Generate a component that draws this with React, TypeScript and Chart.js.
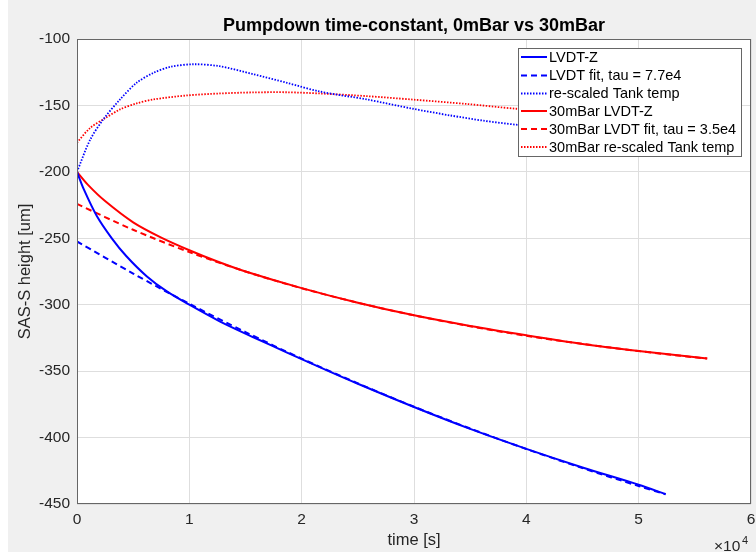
import React, { useEffect, useRef } from "react";
import { Chart, registerables } from "chart.js";
Chart.register(...registerables);

// time in units of 1e4 s
const chartTitle = "Pumpdown time-constant, 0mBar vs 30mBar";
const xLabel = "time [s]";
const yLabel = "SAS-S height [um]";
const xTickValues = [0, 1, 2, 3, 4, 5, 6];
const yTickValues = [-450, -400, -350, -300, -250, -200, -150, -100];

const lvdtT = [0, 0.06, 0.175, 0.31, 0.44, 0.62, 0.8, 1.0, 1.27, 1.57, 1.87, 2.24, 2.5, 3, 3.5, 4, 4.5, 5, 5.24];
const lvdtY = [-200, -213, -233, -250, -263.5, -278.5, -290, -300, -312.5, -324.5, -336, -350, -359.5, -377, -393.5, -408.5, -422.5, -435.5, -442.5];

const lvdtFitT = [0, 0.5, 1, 1.5, 2, 2.5, 3, 3.5, 4, 4.5, 5, 5.24];
const lvdtFitY = [-252.4, -276.6, -299.3, -320.6, -340.6, -359.2, -376.8, -393.2, -408.6, -423, -436.5, -442.7];

const tankT = [0, 0.116, 0.234, 0.383, 0.53, 0.68, 0.83, 1.035, 1.27, 1.57, 1.87, 2.16, 2.58, 2.99, 3.32, 3.62, 3.91, 4.3, 4.8, 5.24];
const tankY = [-200, -176, -160.5, -145.5, -133, -125.5, -121, -119, -120.5, -126.5, -133, -139.5, -145.5, -152.5, -157.5, -161.5, -164.5, -167.5, -170.5, -172.5];

const lvdt30T = [0, 0.1, 0.25, 0.5, 0.75, 1, 1.25, 1.5, 2, 2.5, 3, 3.5, 4, 4.5, 5, 5.61];
const lvdt30Y = [-200, -210, -222, -238, -249.5, -259, -267.5, -275, -287.5, -298.5, -308, -316, -323, -329.5, -334.8, -340.5];

const lvdt30FitT = [0, 0.5, 1, 1.5, 2, 2.5, 3, 3.5, 4, 4.5, 5, 5.5, 5.61];
const lvdt30FitY = [-224.2, -243.6, -260.4, -275, -287.6, -298.5, -308, -316.2, -323.4, -329.5, -334.9, -339.6, -340.5];

const tank30T = [0, 0.116, 0.234, 0.383, 0.53, 0.68, 0.976, 1.27, 1.57, 1.87, 2.16, 2.58, 2.99, 3.47, 3.91, 4.5, 5, 5.61];
const tank30Y = [-178, -167, -160.5, -153, -148.5, -145.5, -142.5, -141, -140.2, -140.1, -141, -143, -145.6, -148.9, -152.5, -156, -158.5, -161];

const labels = [
  "LVDT-Z",
  "LVDT fit, tau = 7.7e4",
  "re-scaled Tank temp",
  "30mBar LVDT-Z",
  "30mBar LVDT fit, tau = 3.5e4",
  "30mBar re-scaled Tank temp",
];

const W = 756;
const H = 555;
const FONT = "'Liberation Sans', Arial, Helvetica, sans-serif";

const pts = (t: number[], y: number[]) => t.map((v, i) => ({ x: v, y: y[i] }));

const deco = {
  id: "deco",
  beforeDraw(chart: any) {
    const ctx = chart.ctx;
    const a = chart.chartArea;
    ctx.save();
    ctx.fillStyle = "#ffffff";
    ctx.fillRect(0, 0, W, H);
    ctx.fillStyle = "#f0f0f0";
    ctx.fillRect(8, 0, W - 8, 552);
    ctx.fillStyle = "#ffffff";
    ctx.fillRect(a.left, a.top, a.right - a.left, a.bottom - a.top);
    ctx.restore();
  },
  afterDraw(chart: any) {
    const ctx = chart.ctx;
    const a = chart.chartArea;
    ctx.save();
    // axes box
    ctx.strokeStyle = "#666666";
    ctx.lineWidth = 1;
    ctx.strokeRect(Math.round(a.left) + 0.5, Math.round(a.top) + 0.5, Math.round(a.right - a.left) - 1, Math.round(a.bottom - a.top) - 1);

    const cx = (a.left + a.right) / 2;
    const cy = (a.top + a.bottom) / 2;
    // title
    ctx.fillStyle = "#000000";
    ctx.font = `bold 18px ${FONT}`;
    ctx.textAlign = "center";
    ctx.textBaseline = "alphabetic";
    ctx.fillText(chartTitle, cx, 31);
    // x label
    ctx.fillStyle = "#262626";
    ctx.font = `16.5px ${FONT}`;
    ctx.textBaseline = "middle";
    ctx.fillText(xLabel, cx, 540);
    // y label
    ctx.save();
    ctx.translate(25, cy);
    ctx.rotate(-Math.PI / 2);
    ctx.fillText(yLabel, 0, 0);
    ctx.restore();
    // exponent
    ctx.textAlign = "left";
    ctx.textBaseline = "alphabetic";
    ctx.font = `15.5px ${FONT}`;
    ctx.fillText("\u00d710", 714, 551);
    ctx.font = `11px ${FONT}`;
    ctx.fillText("4", 742, 544);

    // legend
    const lx = 518, ly = 48, lw = 224, lh = 109;
    ctx.fillStyle = "#ffffff";
    ctx.fillRect(lx, ly, lw, lh);
    ctx.strokeStyle = "#666666";
    ctx.strokeRect(lx + 0.5, ly + 0.5, lw - 1, lh - 1);
    const rows = [57, 75.5, 93.5, 111, 129, 147];
    chart.data.datasets.forEach((ds: any, i: number) => {
      const y = rows[i];
      ctx.save();
      ctx.strokeStyle = ds.borderColor;
      ctx.lineWidth = ds.borderWidth;
      ctx.setLineDash(ds.borderDash || []);
      ctx.beginPath();
      ctx.moveTo(521, y);
      ctx.lineTo(547, y);
      ctx.stroke();
      ctx.restore();
      ctx.fillStyle = "#000000";
      ctx.font = `14.5px ${FONT}`;
      ctx.textAlign = "left";
      ctx.textBaseline = "middle";
      ctx.fillText(ds.label, 549, y + 0.5);
    });
    ctx.restore();
  },
};

export default function App() {
  const ref = useRef<HTMLCanvasElement | null>(null);
  useEffect(() => {
    document.body.style.margin = "0";
    const canvas = ref.current!;
    const mk = (i: number, t: number[], y: number[], color: string, dash: number[], width: number) => ({
      label: labels[i],
      data: pts(t, y),
      borderColor: color,
      backgroundColor: color,
      borderWidth: width,
      borderDash: dash,
      pointRadius: 0,
      showLine: true,
      fill: false,
      tension: 0.3,
    });
    const chart = new Chart(canvas, {
      type: "scatter",
      data: {
        datasets: [
          mk(0, lvdtT, lvdtY, "#0000ff", [], 2),
          mk(1, lvdtFitT, lvdtFitY, "#0000ff", [6, 4], 2),
          mk(2, tankT, tankY, "#0000ff", [1.5, 1.5], 1.8),
          mk(3, lvdt30T, lvdt30Y, "#ff0000", [], 2),
          mk(4, lvdt30FitT, lvdt30FitY, "#ff0000", [6, 4], 2),
          mk(5, tank30T, tank30Y, "#ff0000", [1.5, 1.5], 1.8),
        ],
      },
      plugins: [deco],
      options: {
        animation: false,
        responsive: false,
        devicePixelRatio: 1,
        layout: { autoPadding: false, padding: { top: 39, right: 5, left: 0, bottom: 0 } },
        plugins: { legend: { display: false }, title: { display: false }, tooltip: { enabled: false } },
        scales: {
          x: {
            type: "linear",
            min: 0,
            max: 6,
            afterBuildTicks: (s: any) => { s.ticks = xTickValues.map((v) => ({ value: v })); },
            afterFit: (s: any) => { s.height = 51; s.paddingLeft = 0; s.paddingRight = 0; },
            grid: { color: "#dedede", drawTicks: false },
            border: { display: false },
            ticks: { color: "#262626", font: { family: FONT, size: 15.5 }, padding: 6, maxRotation: 0, callback: (v: any) => String(v) },
          },
          y: {
            type: "linear",
            min: -450,
            max: -100,
            afterBuildTicks: (s: any) => { s.ticks = yTickValues.map((v) => ({ value: v })); },
            afterFit: (s: any) => { s.width = 77; s.paddingTop = 0; s.paddingBottom = 0; },
            grid: { color: "#dedede", drawTicks: false },
            border: { display: false },
            ticks: { color: "#262626", font: { family: FONT, size: 15.5 }, padding: 7, callback: (v: any) => String(v) },
          },
        },
      },
    } as any);
    return () => chart.destroy();
  }, []);
  return (
    <div style={{ width: W, height: H }}>
      <canvas ref={ref} width={W} height={H} style={{ display: "block", width: W, height: H }} />
    </div>
  );
}
